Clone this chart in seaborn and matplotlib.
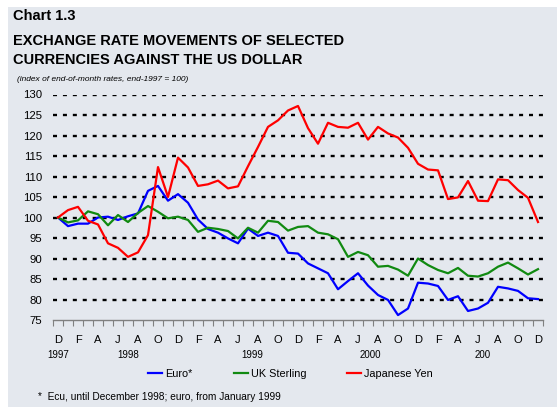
import numpy as np
import pandas as pd
import matplotlib.pyplot as plt
import seaborn as sns
from matplotlib.patches import Rectangle
from matplotlib.lines import Line2D

# monthly index values, Dec 1997 .. Dec 2001 (end-1997 = 100)
month_letters = list('DJFMAMJJASON') * 4 + ['D']

euro = [100.0, 97.9, 98.5, 98.5, 100.0, 100.2, 99.4, 100.3, 101.0, 106.5,
        107.7, 104.1, 105.7, 103.6, 99.5, 97.2, 96.3, 94.9, 93.7, 97.3,
        95.5, 96.3, 95.5, 91.4, 91.2, 88.8, 87.6, 86.4, 82.5, 84.5,
        86.4, 83.4, 81.1, 79.9, 76.2, 77.8, 84.1, 83.9, 83.3, 79.9,
        80.8, 77.2, 77.8, 79.2, 83.1, 82.7, 82.1, 80.3, 80.1]

sterling = [100.0, 98.8, 99.3, 101.5, 100.8, 98.1, 100.6, 98.9, 101.1, 102.8,
            101.4, 99.8, 100.2, 99.4, 96.5, 97.5, 97.2, 96.7, 94.9, 97.5,
            96.3, 99.2, 98.9, 96.8, 97.7, 97.9, 96.3, 95.9, 94.7, 90.4,
            91.6, 90.8, 88.0, 88.2, 87.3, 85.8, 90.0, 88.4, 87.2, 86.4,
            87.7, 85.8, 85.6, 86.4, 88.0, 89.0, 87.6, 86.1, 87.4]

yen = [100.0, 101.8, 102.6, 99.2, 98.3, 93.7, 92.6, 90.4, 91.5, 95.7,
       112.3, 105.0, 114.6, 112.2, 107.7, 108.1, 109.0, 107.1, 107.6, 112.5,
       117.2, 122.1, 123.7, 126.1, 127.2, 121.8, 118.0, 123.1, 122.1, 121.9,
       123.1, 119.0, 122.1, 120.5, 119.5, 117.0, 113.1, 111.7, 111.5, 104.5,
       104.9, 108.9, 104.1, 104.0, 109.3, 109.1, 106.7, 104.8, 98.9]

series_names = ['Euro*', 'UK Sterling', 'Japanese Yen']
colors = ['#0000FF', '#118A11', '#FF0000']
year_labels = ['1997', '1998', '1999', '2000', '200']
year_months = [0, 7, 19.4, 31.2, 42.5]
y_ticks = list(range(75, 131, 5))

df = pd.DataFrame({'month': np.arange(len(euro)),
                   'Euro*': euro, 'UK Sterling': sterling, 'Japanese Yen': yen})
df = df.melt(id_vars='month', var_name='currency', value_name='index')

plt.rcParams['font.family'] = ['Liberation Sans', 'DejaVu Sans']

W, H = 557, 407
fig = plt.figure(figsize=(W / 100, H / 100), dpi=100, facecolor='white')
panel = '#E4E8EE'
fig.patches.append(Rectangle((8 / W, 0), 1 - 8 / W, 1 - 7 / H,
                             transform=fig.transFigure, facecolor=panel,
                             edgecolor='none', zorder=-10))

ax = fig.add_axes([53 / W, 1 - 320 / H, 490 / W, 225.5 / H])
ax.set_facecolor('none')

# dotted horizontal grid
for v in y_ticks[1:]:
    ax.axhline(v, color='black', lw=1.7, dashes=(1.7, 2.5), zorder=1)

sns.lineplot(data=df, x='month', y='index', hue='currency',
             palette=dict(zip(series_names, colors)), hue_order=series_names,
             linewidth=1.6, ax=ax, legend=False, zorder=3)

ax.set_xlim(-0.5, len(euro) - 0.5)
ax.set_ylim(75, 130)
ax.set_xlabel('')
ax.set_ylabel('')

for s in ['left', 'right', 'top']:
    ax.spines[s].set_visible(False)
ax.spines['bottom'].set_color('#808080')
ax.spines['bottom'].set_linewidth(1.0)

ax.set_yticks(y_ticks)
ax.tick_params(axis='y', length=0, pad=8, labelsize=8.2)
ax.set_xticks(np.arange(0, len(euro), 2))
ax.set_xticklabels(month_letters[::2])
ax.set_xticks(np.arange(-0.5, len(euro), 1), minor=True)
ax.tick_params(axis='x', which='major', length=0, pad=11, labelsize=8)
ax.tick_params(axis='x', which='minor', length=4, width=0.8, color='#808080')

for lab, m in zip(year_labels, year_months):
    ax.annotate(lab, xy=(m, 0), xycoords=('data', 'axes fraction'),
                xytext=(0, -25.5), textcoords='offset points',
                ha='center', va='center', fontsize=7)

# titles
fig.text(13 / W, 1 - 20 / H, 'Chart 1.3', fontsize=10.5, weight='bold')
fig.text(13 / W, 1 - 45 / H, 'EXCHANGE RATE MOVEMENTS OF SELECTED',
         fontsize=10.5, weight='bold')
fig.text(13 / W, 1 - 64 / H, 'CURRENCIES AGAINST THE US DOLLAR',
         fontsize=10.5, weight='bold')
fig.text(17 / W, 1 - 81 / H, '(index of end-of-month rates, end-1997 = 100)',
         fontsize=6, style='italic')

handles = [Line2D([], [], color=c, lw=1.6) for c in colors]
fig.legend(handles, series_names, loc='center left',
           bbox_to_anchor=(148 / W, 1 - 374 / H), ncol=3, frameon=False,
           fontsize=7.8, handlelength=1.3, handletextpad=0.28,
           columnspacing=3.8, borderpad=0, borderaxespad=0)

fig.text(38 / W, 1 - 397 / H,
         '*  Ecu, until December 1998; euro, from January 1999',
         fontsize=7.3, va='center')

fig.savefig('out.png', dpi=100, facecolor=fig.get_facecolor())
